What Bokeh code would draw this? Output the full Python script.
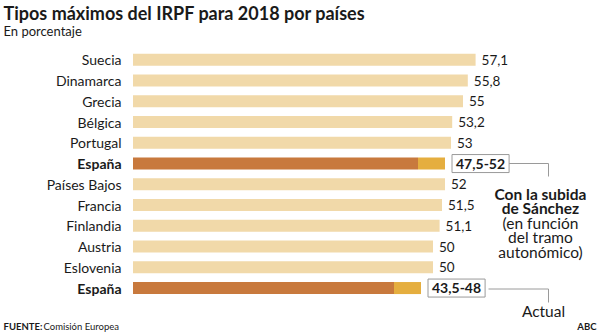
from bokeh.plotting import figure
from bokeh.models import ColumnDataSource, Range1d, Label
from bokeh.core.properties import value
from bokeh.embed import file_html
from bokeh.resources import INLINE

# ---- data ----
countries = ["Suecia", "Dinamarca", "Grecia", "Bélgica", "Portugal", "España",
             "Países Bajos", "Francia", "Finlandia", "Austria", "Eslovenia", "España"]
rates = [57.1, 55.8, 55, 53.2, 53, 52, 52, 51.5, 51.1, 50, 50, 48]
rate_labels = ["57,1", "55,8", "55", "53,2", "53", "47,5-52",
               "52", "51,5", "51,1", "50", "50", "43,5-48"]
spain_rows = [5, 11]
spain_low = [47.5, 43.5]
spain_high = [52, 48]
spain_labels = ["47,5-52", "43,5-48"]

title = "Tipos máximos del IRPF para 2018 por países"
subtitle = "En porcentaje"
note_lines = [("Con la subida", "bold"), ("de Sánchez", "bold"),
              ("(en función", "normal"), ("del tramo", "normal"),
              ("autonómico)", "normal")]
note_actual = "Actual"
source_bold = "FUENTE:"
source_text = "Comisión Europea"
brand = "ABC"

# ---- layout ----
W, H = 597, 332
FONT = "Lato"
X0, XS = 132.5, 6.0        # pixel of zero, pixels per unit
Y0, YS = 59.3, 20.75       # pixel of first row, pixels per row
LIGHT = "#F1D9A9"
DARK = "#C8793D"
MID = "#E5AE3F"
TXT = "#1a1a1a"

def px2x(px):
    return (px - X0) / XS

def py2y(py):
    return (py - Y0) / YS

p = figure(width=W, height=H, output_backend="svg", toolbar_location=None,
           x_range=Range1d(px2x(0), px2x(W)), y_range=Range1d(py2y(H), py2y(0)),
           min_border=0, min_border_left=0, min_border_right=0,
           min_border_top=0, min_border_bottom=0)
p.axis.visible = False
p.grid.visible = False
p.outline_line_color = None
p.background_fill_color = "white"
p.border_fill_color = "white"

rows = list(range(len(countries)))
others = [i for i in rows if i not in spain_rows]

src = ColumnDataSource(dict(
    y=[i for i in others],
    r=[rates[i] for i in others],
    lab=[rate_labels[i] for i in others],
))
p.hbar(y="y", left=0, right="r", height=0.58, source=src, color=LIGHT, line_color=None)
p.text(x="r", y="y", text="lab", source=src, x_offset=6, text_baseline="middle",
       text_align="left", text_font=value(FONT), text_font_size="13.5px", text_color=TXT)

ssrc = ColumnDataSource(dict(y=spain_rows, lo=spain_low, hi=spain_high, lab=spain_labels))
p.hbar(y="y", left=0, right="lo", height=0.58, source=ssrc, color=DARK, line_color=None)
p.hbar(y="y", left="lo", right="hi", height=0.58, source=ssrc, color=MID, line_color=None)

csrc = ColumnDataSource(dict(
    y=rows, name=countries,
    style=["bold" if c == "España" else "normal" for c in countries],
))
p.text(x=px2x(121), y="y", text="name", source=csrc, text_align="right",
       text_baseline="middle", text_font=value(FONT), text_font_size="14px",
       text_font_style="style", text_color=TXT)

for r, hi, lab in zip(spain_rows, spain_high, spain_labels):
    p.add_layout(Label(x=hi, y=r, x_offset=7, text=lab, text_font=FONT,
                       text_font_size="14px", text_font_style="bold",
                       text_color=TXT, text_baseline="middle", text_align="left",
                       border_line_color="#9a9a9a", border_line_width=1,
                       background_fill_color="white", padding=4))

# connector lines
p.line([px2x(508), px2x(548), px2x(548)], [py2y(163), py2y(163), py2y(176)],
       line_color="#9a9a9a", line_width=1)
p.line([px2x(488), px2x(548), px2x(548)], [py2y(288.5), py2y(288.5), py2y(302)],
       line_color="#9a9a9a", line_width=1)

def slabel(text, x, ycenter, size, style="normal", align="left"):
    p.add_layout(Label(x=x, y=H - ycenter, x_units="screen", y_units="screen",
                       text=text, text_font=FONT, text_font_size=size,
                       text_font_style=style, text_color=TXT,
                       text_baseline="middle", text_align=align))

slabel(title, 3, 12, "18px", "bold")
slabel(subtitle, 3, 30, "13px")
for k, (t, st) in enumerate(note_lines):
    slabel(t, 540, 193 + 14.6 * k, "15.5px", st, "center")
slabel(note_actual, 543, 310, "15.5px", "normal", "center")
slabel(source_bold, 3, 326, "9.5px", "bold")
slabel(source_text, 43, 326, "9.5px", "normal")
slabel(brand, 596, 326, "9.5px", "bold", "right")

open("out.html", "w").write(file_html(p, INLINE))
